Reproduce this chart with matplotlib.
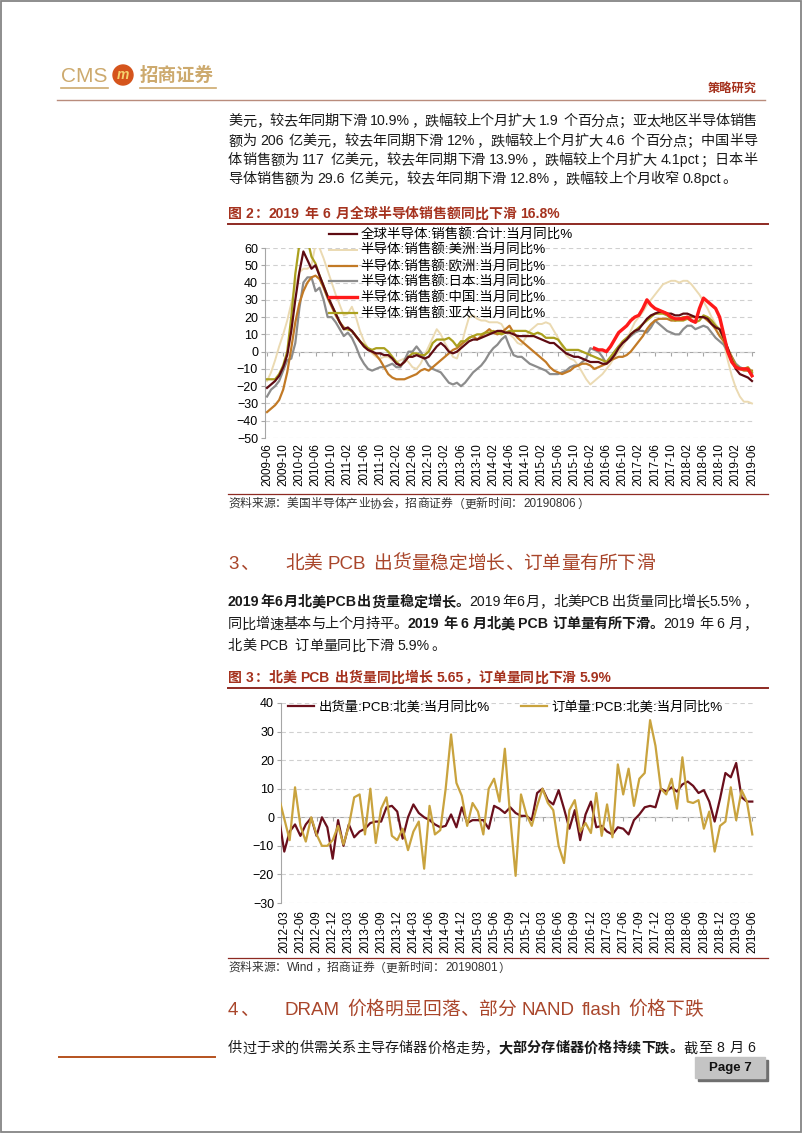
import pandas as pd
import matplotlib
matplotlib.use('Agg')
from matplotlib import pyplot as plt
from matplotlib.lines import Line2D
from matplotlib.patches import Rectangle, Ellipse

W, H = 802, 1133
plt.rcParams['font.family'] = ['Liberation Sans', 'Noto Sans CJK SC']

# figure 2 data: monthly yoy %, 2009-06 .. 2019-06
months2 = pd.date_range('2009-06-01', '2019-06-01', freq='MS')
labels2 = list(months2.strftime('%Y-%m'))
names2 = ['全球半导体:销售额:合计:当月同比%', '半导体:销售额:美洲:当月同比%',
          '半导体:销售额:欧洲:当月同比%', '半导体:销售额:日本:当月同比%',
          '半导体:销售额:中国:当月同比%', '半导体:销售额:亚太:当月同比%']
total = [
    -21, -19, -17, -14, -9, -2, 12, 30, 46, 58,
    53, 48, 50, 44, 38, 32, 27, 22, 17, 13,
    14, 12, 9, 6, 3, 1, 0, -1, -1, -2,
    -2, -4, -7, -8, -6, -3, -3, -2, -3, -4,
    -3, 0, 3, 5, 3, 0, -1, 0, 2, 4,
    6, 7, 7, 8, 9, 10, 11, 12, 12, 11,
    11, 10, 9, 9, 9, 9, 9, 8, 7, 6,
    5, 5, 3, 1, -1, -2, -3, -3, -4, -5,
    -6, -6, -6, -7, -7, -5, -2, 2, 5, 7,
    10, 12, 13, 16, 19, 21, 22, 23, 23, 22,
    22, 21, 21, 22, 22, 21, 20, 20, 20, 19,
    16, 14, 13, 8, 2, -5, -10, -13, -14, -15, -17]
america = [
    -17, -12, -5, 3, 10, 18, 28, 38, 46, 48,
    48, 50, 62, 60, 54, 47, 40, 33, 27, 21,
    22, 26, 20, 12, 6, 2, -1, -3, -4, -3,
    -3, -5, -6, -5, -4, -6, -9, -10, -7, -2,
    3, 8, 13, 10, 5, 1, -3, -4, 3, 12,
    20, 21, 19, 18, 18, 17, 17, 17, 16, 12,
    10, 8, 5, 4, 8, 12, 14, 16, 16, 17,
    16, 12, 8, 3, -2, -4, -5, -8, -12, -16,
    -19, -17, -15, -13, -10, -7, -3, 0, 3, 7,
    12, 17, 20, 23, 27, 30, 33, 36, 39, 40,
    41, 41, 40, 41, 41, 39, 36, 33, 29, 25,
    20, 16, 12, 5, -5, -14, -21, -26, -29, -29, -30]
europe = [
    -35, -33, -31, -28, -22, -12, 2, 17, 28, 35,
    40, 43, 44, 42, 37, 31, 26, 21, 17, 14,
    13, 12, 9, 6, 3, 1, 0, -2, -5, -9,
    -13, -15, -16, -16, -16, -15, -14, -13, -11, -10,
    -11, -9, -7, -5, -3, -1, 1, 2, 4, 6,
    8, 9, 7, 9, 11, 13, 11, 10, 11, 13,
    15, 11, 8, 6, 4, 2, 0, -2, -4, -6,
    -9, -11, -12, -13, -12, -11, -9, -8, -7, -7,
    -8, -10, -9, -8, -7, -5, -4, -3, -3, -2,
    0, 3, 6, 9, 13, 16, 18, 19, 19, 19,
    18, 18, 19, 20, 20, 20, 20, 20, 20, 18,
    16, 13, 9, 6, 2, -3, -8, -10, -11, -11, -11]
japan = [
    -26, -22, -20, -17, -11, -5, -4, 5, 25, 40,
    43, 43, 35, 37, 30, 20, 20, 17, 13, 9,
    11, 8, 3, -3, -7, -10, -11, -10, -9, -9,
    -8, -7, -9, -9, -5, 0, 0, 3, 0, -4,
    -8, -10, -11, -12, -15, -18, -19, -18, -20, -18,
    -15, -12, -10, -8, -5, -1, 2, 4, 7, 9,
    3, -2, -3, -3, -5, -7, -8, -9, -10, -11,
    -13, -13, -13, -12, -11, -9, -8, -8, -6, -4,
    2, 1, 0, -3, -7, -4, 0, 3, 5, 7,
    9, 11, 12, 12, 11, 14, 18, 16, 14, 12,
    11, 10, 10, 13, 15, 15, 13, 14, 15, 14,
    11, 8, 6, 4, 0, -3, -7, -9, -10, -11, -13]
# china starts 2016-03
china_start = '2016-03-01'
china = [
    2, 1, 1, 0, 3, 7, 11, 13, 15, 18,
    20, 21, 25, 30, 27, 25, 24, 23, 22, 20,
    19, 19, 19, 20, 18, 17, 25, 31, 29, 27,
    25, 20, 10, 0, -6, -9, -10, -10, -10, -14]
asia = [
    -16, -16, -16, -13, -8, 0, 20, 45, 62, 66,
    65, 55, 51, 44, 38, 32, 27, 22, 17, 13,
    13, 12, 9, 6, 4, 2, 1, 2, 2, 2,
    0, -3, -6, -8, -6, -3, -1, -1, -2, -2,
    0, 5, 7, 7, 7, 8, 6, 3, 6, 6,
    8, 9, 10, 10, 11, 11, 12, 11, 10, 11,
    12, 12, 12, 12, 12, 11, 10, 11, 10, 8,
    8, 8, 7, 4, 1, 1, 1, 1, 0, -1,
    -2, -3, -4, -5, -6, -3, 0, 3, 6, 8,
    10, 12, 14, 16, 18, 20, 22, 22, 22, 21,
    19, 18, 18, 18, 19, 18, 17, 18, 21, 20,
    18, 15, 13, 7, 0, -4, -8, -10, -10, -9, -12]

# figure 3 data: monthly yoy %, 2012-02 .. 2019-06 (first month clipped by the axis)
months3 = pd.date_range('2012-02-01', '2019-06-01', freq='MS')
labels3 = list(months3.strftime('%Y-%m'))
names3 = ['出货量:PCB:北美:当月同比%', '订单量:PCB:北美:当月同比%']
shipments = [
    0,
    -12, -5, -2.5, -6.5, -2.5, -0.2, -6.5, 0, -3.5, -14.5,
    -1, -10, -2.5, -7, -5, -4, -2, -1.5, -1.5, 3.5,
    4, 2, -7.5, 0, 4.5, 1.5, 0, -1, -2.5, -3.5,
    -3, 1, -3.5, 3.5, -2, -1, -1, -1, -4, 4,
    3, 1.5, 3.5, 1.5, 0.5, 0.5, -1, 8.5, 10, 6,
    4.5, 9.5, 3, -4, 2.5, -8, 1, 5.5, -3.5, -3,
    -5, -6, -3.5, -4, -6, -1, 1, 3.5, 4, 3.5,
    10, 9, 10.5, 9, 11.5, 12.5, 11, 8.5, 9.5, 5.5,
    -1.5, 6.5, 15.5, 14, 19, 7, 5.5, 5.5]
orders = [
    7,
    -0.5, -8, 10.5, -3, -8.5, 0, -6, -10, -10, -8,
    -3, -9.5, -3, 7, 8, -6, 10, -9, 3, 7,
    -6.5, -8, -4, -11.5, -5, -1.5, -18, 4, -6, -4.5,
    10, 29, 12, 7.5, -3, 5, 2, -6, 10, 13.5,
    5.5, 24, 0, -20.5, 8, 1, -3, 4, 10, 5,
    2.5, -10, -16, 2.5, 6, -5, -2, -5.5, 8.5, -6.5,
    4.5, -7, 18.5, 8, 17, 4, 13.5, 15.5, 34, 25,
    10, 8, 13.5, 3, 21, 5.5, 5, 6, -4, 2,
    -12, -3, -1.5, 10.5, -1, 9.5, 5.5, -6]


fig = plt.figure(figsize=(W / 100, H / 100), dpi=100)
renderer = fig.canvas.get_renderer()


def fx(x):
    return x / W


def fy(y):
    return 1 - y / H


def hline(x0, x1, y, color, lw):
    fig.add_artist(Line2D([fx(x0), fx(x1)], [fy(y), fy(y)], color=color, lw=lw,
                          transform=fig.transFigure))


def txt(x, y, runs, size, color='#1a1a1a', right=None):
    # lay out a line token by token, optionally justified to `right`
    em = size * 100 / 72
    toks = []
    for s, bold in runs:
        buf = ''
        for ch in s:
            if ord(ch) > 0x2E7F or ch == ' ':
                if buf:
                    toks.append((buf, bold))
                    buf = ''
                toks.append((ch, bold))
            else:
                buf += ch
        if buf:
            toks.append((buf, bold))
    items = []
    for s, bold in toks:
        if s == ' ':
            items.append((None, 0.28 * em))
            continue
        t = fig.text(0, fy(y + 0.38 * em), s, fontsize=size, color=color,
                     fontweight='bold' if bold else 'normal', va='baseline')
        if ord(s[0]) > 0x2E7F:
            w = em
        else:
            w = t.get_window_extent(renderer).width + 0.1 * em
        items.append((t, w))
    gap = 0
    if right is not None and len(items) > 1:
        gap = (right - x - sum(w for _, w in items)) / (len(items) - 1)
    cx = x
    for t, w in items:
        if t is not None:
            t.set_x(fx(cx))
        cx += w + gap


RED = '#A5321E'
HEAD = '#A9462B'
RULE = '#8E2A22'
GOLD = '#CDAA6E'

# page frame and header
fig.add_artist(Rectangle((fx(0.8), fy(1132.2)), (W - 1.6) / W, (H - 1.6) / H, fill=False,
                         ec='#858585', lw=1.3, transform=fig.transFigure))
fig.text(fx(61), fy(76), 'CMS', fontsize=15, color=GOLD, va='center', family='Liberation Sans')
fig.add_artist(Ellipse((fx(123), fy(75)), 20 / W, 20 / H, color='#D5541C', transform=fig.transFigure))
fig.text(fx(123), fy(75), 'm', fontsize=10, color='#F6D36E', weight='bold', style='italic',
         ha='center', va='center', family='Liberation Sans')
fig.text(fx(140), fy(76), '招商证券', fontsize=13.3, color=GOLD, weight='bold', va='center')
hline(61, 108, 88, GOLD, 1.2)
hline(140, 216, 88, GOLD, 1.2)
fig.text(fx(757), fy(89), '策略研究', fontsize=8.8, color=RED, weight='bold', ha='right', va='center')
hline(57, 765, 100, '#B98C7C', 1.0)

# paragraph before figure 2
BODY = 10.2
txt(228, 120, [('美元，较去年同期下滑 10.9%，跌幅较上个月扩大 1.9 个百分点；亚太地区半导体销售', False)], BODY, right=757)
txt(228, 140, [('额为 206 亿美元，较去年同期下滑 12%，跌幅较上个月扩大 4.6 个百分点；中国半导', False)], BODY, right=757)
txt(228, 159, [('体销售额为 117 亿美元，较去年同期下滑 13.9%，跌幅较上个月扩大 4.1pct；日本半', False)], BODY, right=757)
txt(228, 178, [('导体销售额为 29.6 亿美元，较去年同期下滑 12.8%，跌幅较上个月收窄 0.8pct。', False)], BODY)

# figure 2
txt(228, 213, [('图 2：2019 年 6 月全球半导体销售额同比下滑 16.8%', True)], 10.0, color=RED)
hline(228, 768, 224, RULE, 1.4)

ax2 = fig.add_axes([fx(265), fy(438), (754 - 265) / W, (438 - 248) / H])
x2 = list(range(len(months2)))
x_cn = [i for i, m in enumerate(months2) if m >= pd.Timestamp(china_start)]
l_am, = ax2.plot(x2, america, color='#EBDAB2', lw=1.4, zorder=2)
l_jp, = ax2.plot(x2, japan, color='#8C8C8C', lw=1.6, zorder=3)
l_eu, = ax2.plot(x2, europe, color='#C27A26', lw=1.6, zorder=3)
l_ap, = ax2.plot(x2, asia, color='#ABA01E', lw=1.6, zorder=4)
l_tot, = ax2.plot(x2, total, color='#5E0B12', lw=1.6, zorder=5)
l_cn, = ax2.plot(x_cn, china, color='#FF1A1A', lw=2.4, zorder=6)
ax2.set_xlim(-0.5, len(x2) - 0.5)
ax2.set_ylim(-50, 60)
ax2.set_yticks(range(-50, 61, 10))
ax2.set_xticks(x2[::4])
ax2.set_xticklabels(labels2[::4])
ax2.tick_params(axis='x', length=0, pad=3.6, labelsize=8.4, rotation=90)
ax2.tick_params(axis='y', length=3, width=0.8, color='#a6a6a6', labelsize=9, pad=2)
ax2.grid(axis='y', color='#d0d0d0', lw=0.8, ls=(0, (4, 3)))
ax2.set_axisbelow(True)
for s in ['top', 'right', 'bottom']:
    ax2.spines[s].set_visible(False)
ax2.spines['left'].set_color('#a6a6a6')
z2 = ax2.secondary_xaxis(50 / 110)
z2.set_xticks(x2[::4])
z2.tick_params(axis='x', length=3, width=0.8, color='#a6a6a6', labelbottom=False, labeltop=False)
for s in z2.spines.values():
    s.set_color('#a6a6a6')

fig.legend(handles=[l_tot, l_am, l_eu, l_jp, l_cn, l_ap], labels=names2, loc='upper left',
           bbox_to_anchor=(fx(329), fy(228.5)), frameon=False, fontsize=9.7, handlelength=2.1,
           handletextpad=0.25, labelspacing=0.2, borderpad=0, borderaxespad=0)

hline(228, 768, 494, RULE, 0.9)
txt(228, 503, [('资料来源：美国半导体产业协会，招商证券（更新时间：20190806）', False)], 8.5, color='#333333')

# section 3
txt(228, 562, [('3、', False)], 13.5, color=HEAD)
txt(285, 562, [('北美 PCB 出货量稳定增长、订单量有所下滑', False)], 13.5, color=HEAD)
txt(228, 601, [('2019年6月北美PCB出货量稳定增长。', True),
               ('2019年6月，北美PCB出货量同比增长5.5%，', False)], BODY, right=757)
txt(228, 623, [('同比增速基本与上个月持平。', False), ('2019 年 6 月北美 PCB 订单量有所下滑。', True),
               ('2019 年 6 月，', False)], BODY, right=757)
txt(228, 645, [('北美 PCB 订单量同比下滑 5.9%。', False)], BODY)

# figure 3
txt(228, 677, [('图 3：北美 PCB 出货量同比增长 5.65，订单量同比下滑 5.9%', True)], 10.0, color=RED)
hline(228, 768, 688, RULE, 1.4)

ax3 = fig.add_axes([fx(281), fy(903), (755 - 281) / W, 200 / H])
x3 = list(range(len(months3)))
l_sh, = ax3.plot(x3, shipments, color='#6A0F1C', lw=1.6, zorder=3)
l_or, = ax3.plot(x3, orders, color='#C9A33E', lw=1.6, zorder=4)
ax3.set_xlim(0.39, 88.5)
ax3.set_ylim(-30, 40)
ax3.set_yticks(range(-30, 41, 10))
ax3.set_xticks(x3[1::3])
ax3.set_xticklabels(labels3[1::3])
ax3.tick_params(axis='x', length=0, pad=5, labelsize=8.4, rotation=90)
ax3.tick_params(axis='y', length=3, width=0.8, color='#a6a6a6', labelsize=9, pad=2)
ax3.grid(axis='y', color='#d0d0d0', lw=0.8, ls=(0, (4, 3)))
ax3.set_axisbelow(True)
for s in ['top', 'right', 'bottom']:
    ax3.spines[s].set_visible(False)
ax3.spines['left'].set_color('#a6a6a6')
z3 = ax3.secondary_xaxis(30 / 70)
z3.set_xticks(x3[1::3])
z3.tick_params(axis='x', length=3, width=0.8, color='#a6a6a6', labelbottom=False, labeltop=False)
for s in z3.spines.values():
    s.set_color('#a6a6a6')

fig.legend(handles=[l_sh, l_or], labels=names3, ncol=2, loc='upper left',
           bbox_to_anchor=(fx(288), fy(701)), frameon=False, fontsize=9.6, handlelength=1.95,
           handletextpad=0.35, columnspacing=2.3, borderpad=0, borderaxespad=0)

hline(228, 768, 958, RULE, 0.9)
txt(228, 967, [('资料来源：Wind，招商证券（更新时间：20190801）', False)], 8.5, color='#333333')

# section 4
txt(228, 1008, [('4、', False)], 13.5, color=HEAD)
txt(285, 1008, [('DRAM 价格明显回落、部分 NAND flash 价格下跌', False)], 13.5, color=HEAD)
txt(228, 1047, [('供过于求的供需关系主导存储器价格走势，', False), ('大部分存储器价格持续下跌。', True),
                ('截至 8 月 6', False)], BODY, right=757)
hline(59, 215, 1057, '#B5521E', 1.4)

# page number box
fig.add_artist(Rectangle((fx(698), fy(1081)), 70 / W, 21 / H, color='#6f6f6f', transform=fig.transFigure))
fig.add_artist(Rectangle((fx(695), fy(1078)), 70 / W, 21 / H, color='#c4c4c4', transform=fig.transFigure))
fig.text(fx(730), fy(1068), 'Page 7', fontsize=9.5, weight='bold', ha='center', va='center',
         color='#111111')

fig.savefig('out.png', dpi=100)
